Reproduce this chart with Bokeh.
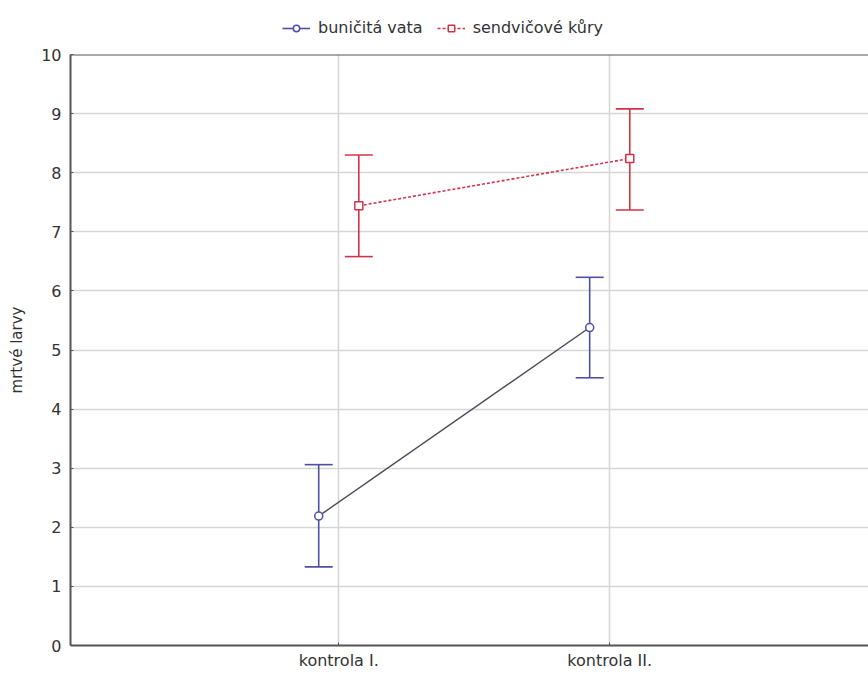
from bokeh.plotting import figure
from bokeh.models import (Range1d, FixedTicker, Whisker, TeeHead, ColumnDataSource,
                          Legend, LegendItem, Span)
from bokeh.layouts import column
from bokeh.embed import file_html
from bokeh.resources import INLINE

# ---- data ----
categories = ["kontrola I.", "kontrola II."]
cat_pos = [1, 2]
series_names = ["buničitá vata", "sendvičové kůry"]
blue_mean = [2.19, 5.38]
blue_upper = [3.06, 6.23]
blue_lower = [1.33, 4.53]
red_mean = [7.44, 8.24]
red_upper = [8.30, 9.08]
red_lower = [6.58, 7.37]
y_ticks = list(range(0, 11))

offset = 0.074
BLUE = "#4f4fa3"
RED = "#d2334a"
FONT = "DejaVu Sans"

p = figure(width=868, height=629, output_backend="svg", toolbar_location=None,
           x_range=Range1d(0.01, 2.955), y_range=Range1d(0, 10),
           min_border_left=70, min_border_right=0, min_border_top=10,
           min_border_bottom=28)
p.outline_line_color = None
p.background_fill_color = "white"
p.border_fill_color = "white"

# axes
p.xaxis.ticker = FixedTicker(ticks=cat_pos)
p.xaxis.major_label_overrides = {c: l for c, l in zip(cat_pos, categories)}
p.yaxis.ticker = FixedTicker(ticks=y_ticks)
p.yaxis.axis_label = "mrtvé larvy"
for ax in (p.xaxis[0], p.yaxis[0]):
    ax.axis_line_color = "#555555"
    ax.axis_line_width = 2
    ax.major_tick_in = 3
    ax.major_tick_out = 0
    ax.major_tick_line_color = "#555555"
    ax.minor_tick_line_color = None
    ax.major_label_text_font = FONT
    ax.major_label_text_font_size = "16px"
    ax.major_label_text_color = "#333333"
p.xaxis.major_label_standoff = 5
p.yaxis.major_label_standoff = 9
p.yaxis.axis_label_text_font = FONT
p.yaxis.axis_label_text_font_size = "15px"
p.yaxis.axis_label_text_font_style = "normal"
p.yaxis.axis_label_text_color = "#333333"
p.yaxis.axis_label_standoff = 12

p.xgrid.grid_line_color = "#d6d6d6"
p.ygrid.grid_line_color = "#d6d6d6"
p.xgrid.grid_line_width = 1.5
p.ygrid.grid_line_width = 1.5

p.add_layout(Span(location=10, dimension="width", line_color="#555555", line_width=2))

bx = [c - offset for c in cat_pos]
rx = [c + offset for c in cat_pos]
src_b = ColumnDataSource(dict(x=bx, y=blue_mean, up=blue_upper, lo=blue_lower))
src_r = ColumnDataSource(dict(x=rx, y=red_mean, up=red_upper, lo=red_lower))

# error bars
for src, col in ((src_b, BLUE), (src_r, RED)):
    w = Whisker(source=src, base="x", upper="up", lower="lo", dimension="height",
                line_color=col, line_width=1.6,
                upper_head=TeeHead(size=28, line_color=col, line_width=1.6),
                lower_head=TeeHead(size=28, line_color=col, line_width=1.6))
    p.add_layout(w)

p.line("x", "y", source=src_b, line_color="#4a4a5a", line_width=1.4)
p.line("x", "y", source=src_r, line_color=RED, line_width=1.6, line_dash="3 2")
p.scatter("x", "y", source=src_b, marker="circle", size=8, fill_color="white",
          line_color=BLUE, line_width=1.5)
p.scatter("x", "y", source=src_r, marker="square", size=8, fill_color="white",
          line_color=RED, line_width=1.5)

# ---- legend strip above the plot (its own ranges keep the data out of view) ----
lg = figure(width=868, height=44, output_backend="svg", toolbar_location=None,
            x_axis_location=None, y_axis_location=None,
            x_range=Range1d(100, 101), y_range=Range1d(100, 101),
            min_border_left=0, min_border_right=0, min_border_top=0,
            min_border_bottom=0)
lg.outline_line_color = None
lg.xgrid.visible = False
lg.ygrid.visible = False
gb = lg.line("x", "y", source=src_b, line_color=BLUE, line_width=1.6)
gbm = lg.scatter("x", "y", source=src_b, marker="circle", size=8, fill_color="white",
                 line_color=BLUE, line_width=1.5)
gr = lg.line("x", "y", source=src_r, line_color=RED, line_width=1.6, line_dash="3 2")
grm = lg.scatter("x", "y", source=src_r, marker="square", size=8, fill_color="white",
                 line_color=RED, line_width=1.5)

legend = Legend(items=[LegendItem(label=series_names[0], renderers=[gb, gbm]),
                       LegendItem(label=series_names[1], renderers=[gr, grm])],
                orientation="horizontal", location=(212, 7),
                padding=0, margin=0, spacing=14, label_standoff=8,
                glyph_width=28, glyph_height=16,
                border_line_color=None, background_fill_alpha=0,
                label_text_font=FONT, label_text_font_size="16px",
                label_text_color="#333333")
lg.add_layout(legend, "center")

layout = column(lg, p, spacing=0)
open("out.html", "w").write(file_html(layout, INLINE))
